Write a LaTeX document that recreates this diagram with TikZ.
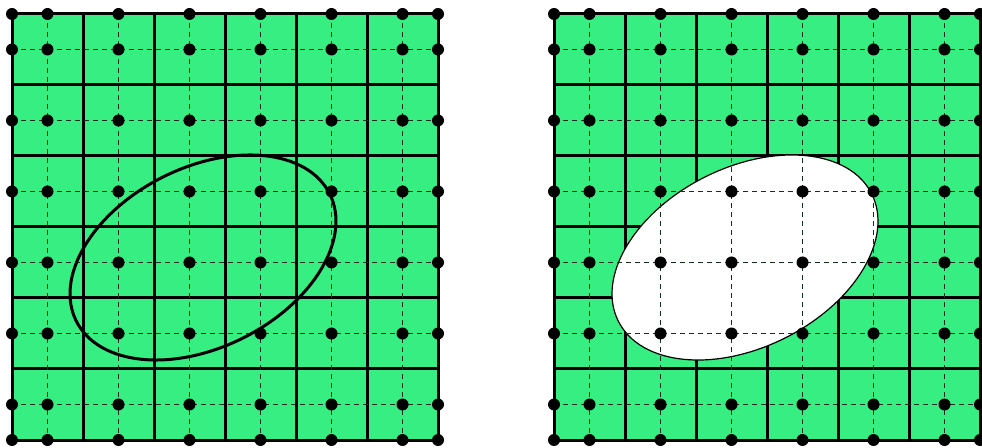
\documentclass[tikz,border=0pt]{standalone}
\definecolor{gridgreen}{RGB}{55,238,130}
\definecolor{dashcol}{RGB}{25,45,30}
\begin{document}
\begin{tikzpicture}[x=1bp,y=-1bp,
  solidline/.style={line width=3bp, black},
  dashline/.style={line width=1.3bp, dashcol, dash pattern=on 5bp off 4bp},
  dotnode/.style={circle, fill=black, inner sep=0pt, minimum size=12bp},
  holeline/.style={line width=3bp, black},
  holefill/.style={fill=white, draw=black, line width=1.2bp}]
\useasboundingbox (0,0) rectangle (982,448);
% ---------- left panel ----------
\begin{scope}[shift={(12,14)}]
  \fill[gridgreen] (0,0) rectangle (426,426);
  \foreach \i in {0,...,6} {
    \draw[solidline] (\i*71,0) -- (\i*71,426);
    \draw[solidline] (0,\i*71) -- (426,\i*71);
  }
  \foreach \i in {0,...,5} {
    \draw[dashline] (35.5+\i*71,0) -- (35.5+\i*71,426);
    \draw[dashline] (0,35.5+\i*71) -- (426,35.5+\i*71);
  }
  \draw[holeline, rotate around={26.7:(191,243.5)}] (191,243.5) ellipse [x radius=141.8, y radius=89.9];
  \foreach \xx [count=\a] in {0,35.5,106.5,177.5,248.5,319.5,390.5,426}
    \foreach \yy [count=\b] in {0,35.5,106.5,177.5,248.5,319.5,390.5,426}
      \node[dotnode] (L-\a-\b) at (\xx,\yy) {};
\end{scope}
% ---------- right panel ----------
\begin{scope}[shift={(554,14)}]
  \fill[gridgreen] (0,0) rectangle (426,426);
  \foreach \i in {0,...,6} {
    \draw[solidline] (\i*71,0) -- (\i*71,426);
    \draw[solidline] (0,\i*71) -- (426,\i*71);
  }
  \draw[holefill, rotate around={26.7:(191,243.5)}] (191,243.5) ellipse [x radius=141.8, y radius=89.9];
  \foreach \i in {0,...,5} {
    \draw[dashline] (35.5+\i*71,0) -- (35.5+\i*71,426);
    \draw[dashline] (0,35.5+\i*71) -- (426,35.5+\i*71);
  }
  \foreach \xx [count=\a] in {0,35.5,106.5,177.5,248.5,319.5,390.5,426}
    \foreach \yy [count=\b] in {0,35.5,106.5,177.5,248.5,319.5,390.5,426}
      \node[dotnode] (R-\a-\b) at (\xx,\yy) {};
\end{scope}
\end{tikzpicture}
\end{document}
